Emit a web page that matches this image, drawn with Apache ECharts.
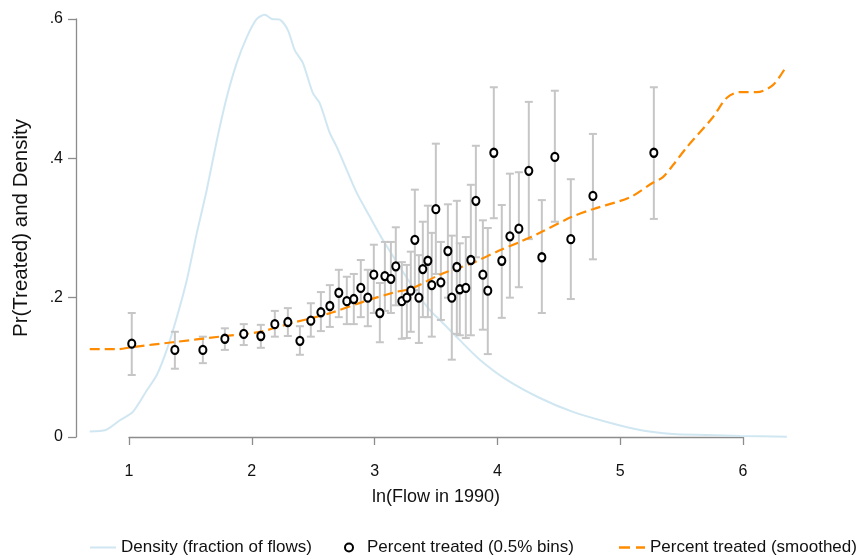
<!DOCTYPE html>
<html>
<head>
<meta charset="utf-8">
<script src="https://cdn.jsdelivr.net/npm/echarts@6/dist/echarts.min.js"></script>
<style>
  html, body { margin: 0; padding: 0; background: #fff; }
  #chart { width: 863px; height: 560px; }
</style>
</head>
<body>
<div id="chart"></div>
<script>
// binned share treated, with 95% interval
var binX  = [1.024, 1.375, 1.603, 1.782, 1.936, 2.075, 2.189, 2.295, 2.393, 2.482,
             2.564, 2.637, 2.710, 2.775, 2.832, 2.889, 2.946, 2.995, 3.044, 3.085,
             3.134, 3.174, 3.223, 3.264, 3.296, 3.329, 3.362, 3.394, 3.435, 3.467,
             3.500, 3.541, 3.598, 3.630, 3.671, 3.695, 3.744, 3.785, 3.826, 3.883,
             3.923, 3.972, 4.037, 4.103, 4.176, 4.257, 4.363, 4.469, 4.599, 4.779,
             5.275];
var binY  = [0.134, 0.125, 0.125, 0.141, 0.148, 0.145, 0.162, 0.165, 0.138, 0.167,
             0.179, 0.188, 0.207, 0.195, 0.198, 0.214, 0.200, 0.233, 0.178, 0.231,
             0.227, 0.245, 0.195, 0.200, 0.210, 0.283, 0.200, 0.241, 0.253, 0.218,
             0.327, 0.222, 0.267, 0.200, 0.244, 0.212, 0.214, 0.254, 0.339, 0.233,
             0.210, 0.408, 0.253, 0.288, 0.299, 0.382, 0.258, 0.402, 0.284, 0.346,
             0.408];
var binLo = [0.089, 0.098, 0.106, 0.125, 0.132, 0.128, 0.144, 0.145, 0.118, 0.144,
             0.152, 0.158, 0.172, 0.162, 0.162, 0.172, 0.159, 0.178, 0.136, 0.181,
             0.178, 0.189, 0.141, 0.142, 0.151, 0.211, 0.135, 0.172, 0.172, 0.144,
             0.234, 0.168, 0.200, 0.111, 0.148, 0.146, 0.142, 0.146, 0.258, 0.154,
             0.119, 0.314, 0.171, 0.200, 0.215, 0.284, 0.178, 0.309, 0.198, 0.255,
             0.313];
var binHi = [0.178, 0.151, 0.144, 0.156, 0.162, 0.161, 0.181, 0.185, 0.159, 0.192,
             0.208, 0.218, 0.240, 0.230, 0.234, 0.254, 0.240, 0.276, 0.221, 0.280,
             0.280, 0.301, 0.251, 0.247, 0.266, 0.355, 0.261, 0.309, 0.332, 0.293,
             0.421, 0.280, 0.334, 0.289, 0.339, 0.278, 0.287, 0.362, 0.418, 0.311,
             0.300, 0.502, 0.333, 0.378, 0.380, 0.481, 0.340, 0.497, 0.370, 0.435,
             0.502];

// kernel density of ln(flow)
var densX = [0.682, 0.813, 0.927, 1.033, 1.147, 1.228, 1.309, 1.391, 1.472, 1.554,
             1.635, 1.717, 1.798, 1.879, 1.961, 2.042, 2.107, 2.165, 2.230, 2.295,
             2.352, 2.417, 2.498, 2.555, 2.637, 2.694, 2.775, 2.857, 2.963, 3.068,
             3.207, 3.313, 3.451, 3.533, 3.695, 3.858, 4.078, 4.347, 4.616, 4.893,
             5.161, 5.430, 5.707, 5.976, 6.358];
var densY = [0.008, 0.010, 0.024, 0.036, 0.067, 0.089, 0.125, 0.172, 0.225, 0.293,
             0.355, 0.426, 0.488, 0.537, 0.574, 0.600, 0.606, 0.600, 0.599, 0.584,
             0.555, 0.537, 0.494, 0.479, 0.436, 0.416, 0.383, 0.350, 0.316, 0.283,
             0.244, 0.215, 0.182, 0.168, 0.139, 0.111, 0.082, 0.056, 0.036, 0.0215,
             0.010, 0.0043, 0.0029, 0.0014, 0.0005];

// smoothed share treated
var smoothX = [0.682, 0.910, 1.024, 1.358, 1.741, 2.067, 2.336, 2.498, 2.661, 2.906,
               3.150, 3.313, 3.533, 3.801, 4.021, 4.184, 4.347, 4.607, 4.779, 5.080,
               5.267, 5.349, 5.430, 5.544, 5.756, 5.870, 5.976, 6.114, 6.244, 6.350];
var smoothY = [0.126, 0.126, 0.129, 0.136, 0.144, 0.151, 0.164, 0.171, 0.179, 0.194,
               0.207, 0.214, 0.233, 0.250, 0.268, 0.280, 0.293, 0.316, 0.327, 0.344,
               0.365, 0.373, 0.390, 0.416, 0.459, 0.487, 0.495, 0.495, 0.505, 0.531];

var FONT = '"Liberation Sans", Arial, sans-serif';
var AXIS_GREY = '#8c8c8c';
var chart = echarts.init(document.getElementById('chart'));

function legendAt(left, name, icon) {
  return {
    left: left, top: 539, padding: 0,
    itemWidth: 26, itemHeight: 8,
    textStyle: { fontSize: 17, color: '#111', fontFamily: FONT },
    data: [{ name: name, icon: icon }]
  };
}

chart.setOption({
  animation: false,
  backgroundColor: '#fff',
  textStyle: { fontFamily: FONT },
  // grid 0 holds the marks (reaches past 1..6), grid 1 only draws the Stata-style axes
  grid: [
    { left: 76, right: 71, top: 12, bottom: 123 },
    { left: 129, right: 120, top: 19, bottom: 123 }
  ],
  legend: [
    legendAt(90, 'Density (fraction of flows)', 'path://M0,0h26v2h-26z'),
    legendAt(344, 'Percent treated (0.5% bins)', 'circle'),
    legendAt(619, 'Percent treated (smoothed)', 'path://M0,0h11v2.5h-11z M17,0h9v2.5h-9z')
  ],
  xAxis: [
    { gridIndex: 0, type: 'value', min: 0.57, max: 6.4, show: false },
    {
      gridIndex: 1,
      type: 'value',
      min: 1, max: 6, interval: 1,
      offset: 14,
      name: 'ln(Flow in 1990)',
      nameLocation: 'middle',
      nameGap: 37,
      nameTextStyle: { fontSize: 18, color: '#111', fontFamily: FONT },
      axisLine: { lineStyle: { color: AXIS_GREY, width: 1.3 } },
      axisTick: { length: 8, lineStyle: { color: AXIS_GREY, width: 1.3 } },
      axisLabel: { fontSize: 16, color: '#111', margin: 13 },
      splitLine: { show: false }
    }
  ],
  yAxis: [
    { gridIndex: 0, type: 'value', min: 0, max: 0.61, show: false },
    {
      gridIndex: 1,
      type: 'value',
      min: 0, max: 0.6, interval: 0.2,
      offset: 53,
      name: 'Pr(Treated) and Density',
      nameLocation: 'middle',
      nameGap: 44,
      nameTextStyle: { fontSize: 20.5, color: '#111', fontFamily: FONT },
      axisLine: { show: true, lineStyle: { color: AXIS_GREY, width: 1.3 } },
      axisTick: { show: true, length: 8, lineStyle: { color: AXIS_GREY, width: 1.3 } },
      axisLabel: {
        fontSize: 16, color: '#111', margin: 13,
        formatter: function (v) { return v === 0 ? '0' : v.toFixed(1).replace('0.', '.'); }
      },
      splitLine: { show: false }
    }
  ],
  series: [
    {
      name: 'Density (fraction of flows)',
      type: 'line',
      data: densX.map(function (x, i) { return [x, densY[i]]; }),
      showSymbol: false,
      symbol: 'none',
      smooth: 0.25,
      lineStyle: { color: '#d0e7f2', width: 2 },
      itemStyle: { color: '#d0e7f2' },
      z: 1
    },
    {
      name: 'ci',
      type: 'custom',
      data: binX.map(function (x, i) { return [x, binLo[i], binHi[i]]; }),
      encode: { x: 0, y: [1, 2] },
      renderItem: function (params, api) {
        var x = api.value(0);
        var top = api.coord([x, api.value(2)]);
        var bot = api.coord([x, api.value(1)]);
        var w = 4;
        var st = { stroke: '#c6c6c6', lineWidth: 2 };
        return {
          type: 'group',
          children: [
            { type: 'line', shape: { x1: top[0], y1: top[1], x2: bot[0], y2: bot[1] }, style: st },
            { type: 'line', shape: { x1: top[0] - w, y1: top[1], x2: top[0] + w, y2: top[1] }, style: st },
            { type: 'line', shape: { x1: bot[0] - w, y1: bot[1], x2: bot[0] + w, y2: bot[1] }, style: st }
          ]
        };
      },
      z: 2
    },
    {
      name: 'Percent treated (smoothed)',
      type: 'line',
      data: smoothX.map(function (x, i) { return [x, smoothY[i]]; }),
      showSymbol: false,
      symbol: 'none',
      smooth: 0.3,
      lineStyle: { color: '#ff8c00', width: 2.2, type: [10, 5] },
      itemStyle: { color: '#ff8c00' },
      z: 3
    },
    {
      name: 'Percent treated (0.5% bins)',
      type: 'scatter',
      data: binX.map(function (x, i) { return [x, binY[i]]; }),
      symbol: 'circle',
      symbolSize: [7, 8],
      itemStyle: { color: '#fff', borderColor: '#000', borderWidth: 2.2, opacity: 1 },
      z: 4
    }
  ]
});
</script>
</body>
</html>
